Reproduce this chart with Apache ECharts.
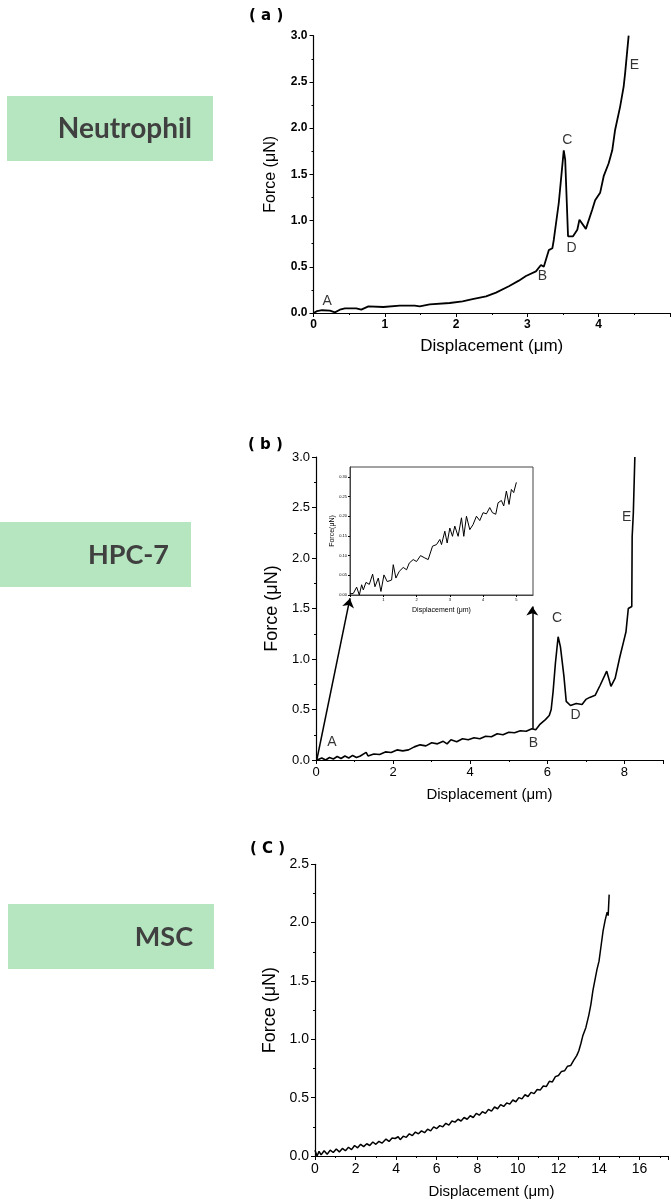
<!DOCTYPE html>
<html>
<head>
<meta charset="utf-8">
<script src="https://cdn.jsdelivr.net/npm/echarts@6/dist/echarts.min.js"></script>
<style>
html,body{margin:0;padding:0;background:#fff;}
#chart{width:671px;height:1202px;}
</style>
</head>
<body>
<div id="chart"></div>
<script>
// ---------- Panel (a) Neutrophil ----------
const aX = [0,0.05,0.12,0.23,0.3,0.37,0.44,0.6,0.67,0.77,0.98,1.21,1.42,1.44,1.49,1.63,1.91,2.09,2.23,2.42,2.56,2.74,2.88,2.98,3.12,3.19,3.23,3.3,3.35,3.37,3.44,3.51,3.53,3.57,3.64,3.7,3.73,3.82,3.91,3.95,4.02,4.07,4.14,4.19,4.23,4.3,4.35,4.37,4.42];
const aY = [0,0.02,0.03,0.025,0.007,0.036,0.05,0.05,0.036,0.072,0.065,0.08,0.08,0.1,0.072,0.094,0.108,0.126,0.15,0.18,0.22,0.29,0.35,0.4,0.45,0.52,0.5,0.68,0.7,0.79,1.19,1.76,1.66,0.83,0.83,0.9,1.01,0.91,1.12,1.22,1.3,1.48,1.62,1.76,1.98,2.23,2.45,2.59,3.0];
const aMarks = ['A','B','C','D','E'];
const aMarkX = [0.19,3.21,3.56,3.62,4.5];
const aMarkY = [0.13,0.40,1.87,0.70,2.68];

// ---------- Panel (b) HPC-7 ----------
const bX = [0.03,0.15,0.25,0.35,0.45,0.55,0.65,0.75,0.85,0.95,1.05,1.15,1.3,1.35,1.5,1.65,1.8,1.95,2.1,2.25,2.4,2.55,2.7,2.85,3.0,3.15,3.3,3.4,3.5,3.65,3.8,3.95,4.1,4.25,4.4,4.55,4.7,4.85,5.0,5.15,5.3,5.45,5.6,5.7,5.8,5.95,6.05,6.1,6.15,6.21,6.28,6.34,6.43,6.49,6.6,6.75,6.9,7.0,7.1,7.24,7.37,7.54,7.65,7.76,7.88,7.97,8.04,8.1,8.19,8.2,8.23,8.27];
const bY = [0,0.02,0.0,0.025,0.01,0.035,0.015,0.04,0.02,0.045,0.025,0.04,0.075,0.04,0.06,0.055,0.08,0.075,0.1,0.09,0.1,0.13,0.15,0.14,0.17,0.16,0.185,0.16,0.2,0.18,0.21,0.2,0.22,0.21,0.235,0.23,0.26,0.25,0.275,0.27,0.29,0.285,0.31,0.3,0.35,0.4,0.44,0.5,0.68,0.96,1.22,1.12,0.83,0.58,0.54,0.56,0.55,0.6,0.62,0.64,0.74,0.88,0.73,0.81,1.02,1.16,1.27,1.5,1.52,2.21,2.44,3.0];
const bMarks = ['A','B','C','D','E'];
const bMarkX = [0.41,5.64,6.25,6.73,8.06];
const bMarkY = [0.18,0.17,1.40,0.44,2.40];
const bArrowFrom = [[0.02,0.0],[5.61,0.31]];
const bArrowTo = [[0.88,1.6],[5.61,1.52]];

// inset of (b)
const insX = [0,0.1,0.2,0.28,0.35,0.4,0.48,0.58,0.68,0.75,0.85,0.93,1.02,1.12,1.25,1.3,1.38,1.48,1.6,1.7,1.78,1.9,2.0,2.12,2.25,2.35,2.48,2.6,2.7,2.75,2.85,2.92,3.0,3.08,3.15,3.25,3.35,3.42,3.5,3.6,3.7,3.8,3.9,4.0,4.1,4.2,4.28,4.38,4.45,4.55,4.62,4.7,4.78,4.85,4.92,5.0];
const insY = [0.003,0.004,0.02,0.0,0.026,0.013,0.032,0.027,0.053,0.021,0.043,0.009,0.051,0.034,0.038,0.077,0.043,0.06,0.07,0.064,0.081,0.09,0.085,0.1,0.094,0.09,0.124,0.128,0.141,0.128,0.162,0.132,0.17,0.149,0.175,0.149,0.196,0.149,0.2,0.166,0.179,0.2,0.189,0.209,0.206,0.222,0.209,0.205,0.234,0.24,0.226,0.264,0.23,0.268,0.26,0.286];

// ---------- Panel (c) MSC ----------
const cX = [0,0.1,0.2,0.3,0.45,0.6,0.75,0.9,1.05,1.2,1.35,1.5,1.65,1.8,1.95,2.1,2.25,2.4,2.55,2.7,2.85,3.0,3.15,3.3,3.5,3.65,3.8,3.95,4.1,4.2,4.35,4.5,4.65,4.8,4.95,5.1,5.25,5.4,5.55,5.7,5.85,6.0,6.15,6.3,6.45,6.6,6.75,6.9,7.05,7.2,7.35,7.5,7.65,7.8,7.95,8.1,8.25,8.4,8.55,8.7,8.85,9.0,9.15,9.3,9.45,9.6,9.75,9.9,10.05,10.2,10.35,10.5,10.65,10.8,10.95,11.1,11.25,11.4,11.55,11.7,11.85,12.0,12.15,12.3,12.45,12.6,12.75,12.9,13.0,13.1,13.2,13.35,13.5,13.6,13.7,13.8,13.9,14.0,14.1,14.2,14.3,14.4,14.45,14.5];
const cY = [0.05,0.0,0.04,0.01,0.045,0.015,0.05,0.03,0.06,0.035,0.065,0.045,0.075,0.055,0.09,0.07,0.1,0.08,0.105,0.09,0.12,0.1,0.125,0.11,0.145,0.125,0.155,0.15,0.165,0.14,0.17,0.16,0.19,0.175,0.205,0.19,0.215,0.2,0.23,0.215,0.25,0.235,0.26,0.25,0.28,0.265,0.3,0.29,0.315,0.3,0.33,0.315,0.345,0.33,0.365,0.35,0.38,0.365,0.4,0.385,0.42,0.405,0.44,0.425,0.455,0.445,0.48,0.465,0.5,0.49,0.525,0.51,0.545,0.535,0.57,0.565,0.6,0.595,0.64,0.635,0.68,0.69,0.725,0.73,0.77,0.775,0.82,0.86,0.9,0.96,1.03,1.1,1.21,1.3,1.42,1.51,1.6,1.67,1.8,1.93,2.02,2.09,2.06,2.24];

// ---------- side labels ----------
const cellNames = ['Neutrophil','HPC-7','MSC'];
const panelTitles = ['( a )','( b )','( C )'];

const zip = (xs, ys) => xs.map((x, i) => [x, ys[i]]);

const FONT = '"Liberation Sans", Arial, sans-serif';

function valAxis(opts) {
  const base = {
    type: 'value',
    splitLine: { show: false },
    axisLine: { show: true, onZero: false, lineStyle: { color: '#000', width: 1.2 } },
    axisTick: { show: true, length: 4, lineStyle: { color: '#000' } },
    minorTick: { show: true, splitNumber: 2, length: 2, lineStyle: { color: '#000' } },
    axisLabel: { color: '#000', fontFamily: FONT, fontSize: 12, margin: 6 },
    nameLocation: 'middle',
    nameTextStyle: { color: '#000', fontFamily: FONT, fontSize: 16 }
  };
  const o = Object.assign({}, base, opts);
  if (opts.axisLabel) o.axisLabel = Object.assign({}, base.axisLabel, opts.axisLabel);
  if (opts.nameTextStyle) o.nameTextStyle = Object.assign({}, base.nameTextStyle, opts.nameTextStyle);
  if (opts.axisTick) o.axisTick = Object.assign({}, base.axisTick, opts.axisTick);
  if (opts.minorTick) o.minorTick = Object.assign({}, base.minorTick, opts.minorTick);
  return o;
}

function lineSeries(xi, yi, data, width) {
  return {
    type: 'line', xAxisIndex: xi, yAxisIndex: yi, data: data,
    showSymbol: false, symbol: 'none', smooth: false,
    lineStyle: { color: '#000', width: width }, silent: true
  };
}

function markSeries(xi, yi, names, xs, ys, size) {
  return {
    type: 'scatter', xAxisIndex: xi, yAxisIndex: yi, symbolSize: 0, silent: true,
    data: names.map((n, i) => ({ name: n, value: [xs[i], ys[i]] })),
    label: { show: true, position: 'inside', formatter: '{b}', color: '#000', fontFamily: FONT, fontSize: size }
  };
}

const option = {
  animation: false,
  backgroundColor: '#fff',
  grid: [
    { left: 313.5, top: 35.7, width: 356.5, height: 277.3 },
    { left: 316, top: 457, width: 347, height: 303 },
    { left: 350, top: 467, width: 183, height: 128, show: true, borderColor: '#444', borderWidth: 1, backgroundColor: 'transparent' },
    { left: 315, top: 864.3, width: 353, height: 291.7 }
  ],
  xAxis: [
    valAxis({ gridIndex: 0, min: 0, max: 5, interval: 1,
      axisLabel: { fontWeight: 'bold', showMaxLabel: false },
      name: 'Displacement (\u03bcm)', nameGap: 25, nameTextStyle: { fontSize: 17 } }),
    valAxis({ gridIndex: 1, min: 0, max: 9, interval: 2,
      axisLabel: { fontSize: 13, showMaxLabel: false },
      name: 'Displacement (\u03bcm)', nameGap: 27, nameTextStyle: { fontSize: 15 } }),
    valAxis({ gridIndex: 2, min: 0, max: 5.5, interval: 1,
      axisLine: { show: true, onZero: false, lineStyle: { color: '#444', width: 1 } },
      axisTick: { length: 2 }, minorTick: { show: false },
      axisLabel: { fontSize: 4, margin: 3, showMaxLabel: false },
      name: 'Displacement (\u03bcm)', nameGap: 12, nameTextStyle: { fontSize: 7 } }),
    valAxis({ gridIndex: 3, min: 0, max: 17.4, interval: 2,
      axisLabel: { fontSize: 14, showMaxLabel: false },
      name: 'Displacement (\u03bcm)', nameGap: 28, nameTextStyle: { fontSize: 15 } })
  ],
  yAxis: [
    valAxis({ gridIndex: 0, min: 0, max: 3, interval: 0.5,
      axisLabel: { fontWeight: 'bold', formatter: v => v.toFixed(1) },
      name: 'Force (\u03bcN)', nameRotate: 90, nameGap: 35, nameTextStyle: { fontSize: 16 } }),
    valAxis({ gridIndex: 1, min: 0, max: 3, interval: 0.5,
      axisLabel: { fontSize: 13, formatter: v => v.toFixed(1) },
      name: 'Force (\u03bcN)', nameRotate: 90, nameGap: 27, nameTextStyle: { fontSize: 18 } }),
    valAxis({ gridIndex: 2, min: 0, max: 0.325, interval: 0.05,
      axisLine: { show: true, onZero: false, lineStyle: { color: '#444', width: 1 } },
      axisTick: { length: 2 }, minorTick: { show: false },
      axisLabel: { fontSize: 4, margin: 3, showMaxLabel: false, formatter: v => v.toFixed(2) },
      name: 'Force(\u03bcN)', nameRotate: 90, nameGap: 12, nameTextStyle: { fontSize: 7 } }),
    valAxis({ gridIndex: 3, min: 0, max: 2.5, interval: 0.5,
      axisLabel: { fontSize: 14, formatter: v => v.toFixed(1) },
      name: 'Force (\u03bcN)', nameRotate: 90, nameGap: 29, nameTextStyle: { fontSize: 18 } })
  ],
  series: [
    lineSeries(0, 0, zip(aX, aY), 1.8),
    markSeries(0, 0, aMarks, aMarkX, aMarkY, 14),
    Object.assign(lineSeries(1, 1, zip(bX, bY), 1.6), {
      markLine: {
        silent: true, symbol: ['none', 'arrow'], symbolSize: 9,
        lineStyle: { color: '#000', width: 1.5, type: 'solid' },
        itemStyle: { color: '#000' },
        label: { show: false },
        data: bArrowFrom.map((f, i) => [{ coord: f }, { coord: bArrowTo[i] }])
      }
    }),
    markSeries(1, 1, bMarks, bMarkX, bMarkY, 14),
    lineSeries(2, 2, zip(insX, insY), 1),
    lineSeries(3, 3, zip(cX, cY), 1.5)
  ],
  graphic: [
    { type: 'rect', shape: { x: 7, y: 96, width: 206, height: 65 }, style: { fill: '#b5e6bf' }, silent: true },
    { type: 'rect', shape: { x: 0, y: 522, width: 191, height: 65 }, style: { fill: '#b5e6bf' }, silent: true },
    { type: 'rect', shape: { x: 8, y: 904, width: 206, height: 65 }, style: { fill: '#b5e6bf' }, silent: true },
    { type: 'text', x: 192, y: 129, style: { text: cellNames[0], fill: '#404040', font: 'bold 28px Lato, "Open Sans", sans-serif', textAlign: 'right', textVerticalAlign: 'middle' }, silent: true },
    { type: 'text', x: 169, y: 555, style: { text: cellNames[1], fill: '#404040', font: 'bold 27px Lato, "Open Sans", sans-serif', textAlign: 'right', textVerticalAlign: 'middle' }, silent: true },
    { type: 'text', x: 193, y: 937, style: { text: cellNames[2], fill: '#404040', font: 'bold 27px Lato, "Open Sans", sans-serif', textAlign: 'right', textVerticalAlign: 'middle' }, silent: true },
    { type: 'text', x: 249, y: 16, style: { text: panelTitles[0], fill: '#000', font: 'bold 15px "DejaVu Sans", sans-serif', textAlign: 'left', textVerticalAlign: 'middle' }, silent: true },
    { type: 'text', x: 248, y: 445, style: { text: panelTitles[1], fill: '#000', font: 'bold 15px "DejaVu Sans", sans-serif', textAlign: 'left', textVerticalAlign: 'middle' }, silent: true },
    { type: 'text', x: 250, y: 849, style: { text: panelTitles[2], fill: '#000', font: 'bold 15px "DejaVu Sans", sans-serif', textAlign: 'left', textVerticalAlign: 'middle' }, silent: true }
  ]
};

const chart = echarts.init(document.getElementById('chart'), null, { renderer: 'canvas' });
chart.setOption(option);
</script>
</body>
</html>
